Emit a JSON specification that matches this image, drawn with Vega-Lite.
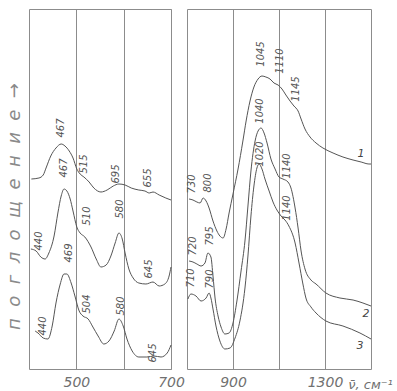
{
  "$schema": "https://vega.github.io/schema/vega-lite/v6.json",
  "background": "white",
  "padding": {"left": 4, "top": 8, "right": 0, "bottom": 0},
  "config": {
    "view": {"stroke": "#8c8c8c", "strokeWidth": 1},
    "concat": {"spacing": 0},
    "font": "DejaVu Sans"
  },
  "datasets": {
    "curves": [
      {"panel":"L","curve":1,"wn":405,"a":190},{"panel":"L","curve":1,"wn":421,"a":191},{"panel":"L","curve":1,"wn":430,"a":194},{"panel":"L","curve":1,"wn":436,"a":201},{"panel":"L","curve":1,"wn":446,"a":213},{"panel":"L","curve":1,"wn":457,"a":221},{"panel":"L","curve":1,"wn":468,"a":225},{"panel":"L","curve":1,"wn":476,"a":223},{"panel":"L","curve":1,"wn":485,"a":218},{"panel":"L","curve":1,"wn":493,"a":211},{"panel":"L","curve":1,"wn":501,"a":200},{"panel":"L","curve":1,"wn":508,"a":195},{"panel":"L","curve":1,"wn":516,"a":192},{"panel":"L","curve":1,"wn":527,"a":187},{"panel":"L","curve":1,"wn":537,"a":181},{"panel":"L","curve":1,"wn":552,"a":177},{"panel":"L","curve":1,"wn":565,"a":179},{"panel":"L","curve":1,"wn":578,"a":183},{"panel":"L","curve":1,"wn":590,"a":185},{"panel":"L","curve":1,"wn":603,"a":184},{"panel":"L","curve":1,"wn":616,"a":181},{"panel":"L","curve":1,"wn":632,"a":179},{"panel":"L","curve":1,"wn":645,"a":178},{"panel":"L","curve":1,"wn":654,"a":176},{"panel":"L","curve":1,"wn":662,"a":177},{"panel":"L","curve":1,"wn":675,"a":174},{"panel":"L","curve":1,"wn":689,"a":171},{"panel":"L","curve":1,"wn":700,"a":169},
      {"panel":"L","curve":2,"wn":404,"a":120},{"panel":"L","curve":2,"wn":415,"a":118},{"panel":"L","curve":2,"wn":425,"a":112},{"panel":"L","curve":2,"wn":434,"a":110},{"panel":"L","curve":2,"wn":442,"a":116},{"panel":"L","curve":2,"wn":453,"a":133},{"panel":"L","curve":2,"wn":461,"a":156},{"panel":"L","curve":2,"wn":468,"a":173},{"panel":"L","curve":2,"wn":474,"a":180},{"panel":"L","curve":2,"wn":480,"a":178},{"panel":"L","curve":2,"wn":487,"a":170},{"panel":"L","curve":2,"wn":493,"a":158},{"panel":"L","curve":2,"wn":501,"a":142},{"panel":"L","curve":2,"wn":508,"a":136},{"panel":"L","curve":2,"wn":518,"a":132},{"panel":"L","curve":2,"wn":531,"a":122},{"panel":"L","curve":2,"wn":542,"a":110},{"panel":"L","curve":2,"wn":552,"a":102},{"panel":"L","curve":2,"wn":563,"a":104},{"panel":"L","curve":2,"wn":573,"a":113},{"panel":"L","curve":2,"wn":582,"a":126},{"panel":"L","curve":2,"wn":590,"a":136},{"panel":"L","curve":2,"wn":597,"a":130},{"panel":"L","curve":2,"wn":603,"a":116},{"panel":"L","curve":2,"wn":611,"a":100},{"panel":"L","curve":2,"wn":620,"a":91},{"panel":"L","curve":2,"wn":632,"a":86},{"panel":"L","curve":2,"wn":647,"a":85},{"panel":"L","curve":2,"wn":662,"a":87},{"panel":"L","curve":2,"wn":675,"a":83},{"panel":"L","curve":2,"wn":687,"a":85},{"panel":"L","curve":2,"wn":696,"a":93},{"panel":"L","curve":2,"wn":700,"a":102},
      {"panel":"L","curve":3,"wn":413,"a":38},{"panel":"L","curve":3,"wn":419,"a":36},{"panel":"L","curve":3,"wn":430,"a":31},{"panel":"L","curve":3,"wn":440,"a":30},{"panel":"L","curve":3,"wn":449,"a":43},{"panel":"L","curve":3,"wn":457,"a":66},{"panel":"L","curve":3,"wn":466,"a":85},{"panel":"L","curve":3,"wn":474,"a":95},{"panel":"L","curve":3,"wn":480,"a":95},{"panel":"L","curve":3,"wn":489,"a":86},{"panel":"L","curve":3,"wn":497,"a":73},{"panel":"L","curve":3,"wn":506,"a":58},{"panel":"L","curve":3,"wn":514,"a":53},{"panel":"L","curve":3,"wn":525,"a":50},{"panel":"L","curve":3,"wn":535,"a":42},{"panel":"L","curve":3,"wn":546,"a":33},{"panel":"L","curve":3,"wn":558,"a":25},{"panel":"L","curve":3,"wn":569,"a":28},{"panel":"L","curve":3,"wn":580,"a":38},{"panel":"L","curve":3,"wn":590,"a":50},{"panel":"L","curve":3,"wn":599,"a":43},{"panel":"L","curve":3,"wn":607,"a":30},{"panel":"L","curve":3,"wn":618,"a":18},{"panel":"L","curve":3,"wn":632,"a":12},{"panel":"L","curve":3,"wn":649,"a":12},{"panel":"L","curve":3,"wn":664,"a":13},{"panel":"L","curve":3,"wn":679,"a":12},{"panel":"L","curve":3,"wn":692,"a":16},{"panel":"L","curve":3,"wn":700,"a":24},
      {"panel":"R","curve":1,"wn":709,"a":170},{"panel":"R","curve":1,"wn":726,"a":169},{"panel":"R","curve":1,"wn":743,"a":167},{"panel":"R","curve":1,"wn":757,"a":166},{"panel":"R","curve":1,"wn":770,"a":171},{"panel":"R","curve":1,"wn":783,"a":168},{"panel":"R","curve":1,"wn":796,"a":161},{"panel":"R","curve":1,"wn":813,"a":148},{"panel":"R","curve":1,"wn":830,"a":138},{"panel":"R","curve":1,"wn":843,"a":133},{"panel":"R","curve":1,"wn":857,"a":131},{"panel":"R","curve":1,"wn":870,"a":140},{"panel":"R","curve":1,"wn":883,"a":156},{"panel":"R","curve":1,"wn":900,"a":175},{"panel":"R","curve":1,"wn":922,"a":200},{"panel":"R","curve":1,"wn":943,"a":228},{"panel":"R","curve":1,"wn":957,"a":248},{"panel":"R","curve":1,"wn":974,"a":268},{"panel":"R","curve":1,"wn":991,"a":282},{"panel":"R","curve":1,"wn":1009,"a":290},{"panel":"R","curve":1,"wn":1026,"a":293},{"panel":"R","curve":1,"wn":1043,"a":292},{"panel":"R","curve":1,"wn":1061,"a":290},{"panel":"R","curve":1,"wn":1078,"a":286},{"panel":"R","curve":1,"wn":1096,"a":284},{"panel":"R","curve":1,"wn":1113,"a":280},{"panel":"R","curve":1,"wn":1130,"a":274},{"panel":"R","curve":1,"wn":1148,"a":268},{"panel":"R","curve":1,"wn":1165,"a":263},{"panel":"R","curve":1,"wn":1183,"a":258},{"panel":"R","curve":1,"wn":1196,"a":250},{"panel":"R","curve":1,"wn":1213,"a":240},{"panel":"R","curve":1,"wn":1235,"a":232},{"panel":"R","curve":1,"wn":1261,"a":226},{"panel":"R","curve":1,"wn":1291,"a":221},{"panel":"R","curve":1,"wn":1335,"a":216},{"panel":"R","curve":1,"wn":1378,"a":212},{"panel":"R","curve":1,"wn":1422,"a":209},{"panel":"R","curve":1,"wn":1457,"a":207},{"panel":"R","curve":1,"wn":1491,"a":205},{"panel":"R","curve":1,"wn":1500,"a":205},
      {"panel":"R","curve":2,"wn":709,"a":108},{"panel":"R","curve":2,"wn":726,"a":107},{"panel":"R","curve":2,"wn":743,"a":105},{"panel":"R","curve":2,"wn":761,"a":103},{"panel":"R","curve":2,"wn":778,"a":106},{"panel":"R","curve":2,"wn":791,"a":116},{"panel":"R","curve":2,"wn":804,"a":112},{"panel":"R","curve":2,"wn":813,"a":93},{"panel":"R","curve":2,"wn":822,"a":71},{"panel":"R","curve":2,"wn":835,"a":53},{"panel":"R","curve":2,"wn":848,"a":42},{"panel":"R","curve":2,"wn":865,"a":35},{"panel":"R","curve":2,"wn":883,"a":36},{"panel":"R","curve":2,"wn":900,"a":46},{"panel":"R","curve":2,"wn":917,"a":68},{"panel":"R","curve":2,"wn":935,"a":98},{"panel":"R","curve":2,"wn":952,"a":128},{"panel":"R","curve":2,"wn":965,"a":163},{"panel":"R","curve":2,"wn":978,"a":198},{"panel":"R","curve":2,"wn":996,"a":228},{"panel":"R","curve":2,"wn":1009,"a":238},{"panel":"R","curve":2,"wn":1022,"a":241},{"panel":"R","curve":2,"wn":1035,"a":236},{"panel":"R","curve":2,"wn":1048,"a":226},{"panel":"R","curve":2,"wn":1065,"a":210},{"panel":"R","curve":2,"wn":1083,"a":200},{"panel":"R","curve":2,"wn":1100,"a":192},{"panel":"R","curve":2,"wn":1117,"a":190},{"panel":"R","curve":2,"wn":1139,"a":187},{"panel":"R","curve":2,"wn":1152,"a":181},{"panel":"R","curve":2,"wn":1170,"a":161},{"panel":"R","curve":2,"wn":1183,"a":141},{"panel":"R","curve":2,"wn":1196,"a":118},{"panel":"R","curve":2,"wn":1213,"a":100},{"panel":"R","curve":2,"wn":1239,"a":89},{"panel":"R","curve":2,"wn":1261,"a":85},{"panel":"R","curve":2,"wn":1304,"a":76},{"panel":"R","curve":2,"wn":1365,"a":71},{"panel":"R","curve":2,"wn":1422,"a":69},{"panel":"R","curve":2,"wn":1465,"a":66},{"panel":"R","curve":2,"wn":1500,"a":63},
      {"panel":"R","curve":3,"wn":704,"a":70},{"panel":"R","curve":3,"wn":717,"a":75},{"panel":"R","curve":3,"wn":739,"a":73},{"panel":"R","curve":3,"wn":761,"a":68},{"panel":"R","curve":3,"wn":783,"a":71},{"panel":"R","curve":3,"wn":796,"a":76},{"panel":"R","curve":3,"wn":804,"a":71},{"panel":"R","curve":3,"wn":813,"a":60},{"panel":"R","curve":3,"wn":826,"a":43},{"panel":"R","curve":3,"wn":843,"a":28},{"panel":"R","curve":3,"wn":865,"a":20},{"panel":"R","curve":3,"wn":887,"a":21},{"panel":"R","curve":3,"wn":909,"a":31},{"panel":"R","curve":3,"wn":930,"a":48},{"panel":"R","curve":3,"wn":952,"a":81},{"panel":"R","curve":3,"wn":965,"a":113},{"panel":"R","curve":3,"wn":978,"a":153},{"panel":"R","curve":3,"wn":991,"a":183},{"panel":"R","curve":3,"wn":1004,"a":201},{"panel":"R","curve":3,"wn":1013,"a":205},{"panel":"R","curve":3,"wn":1026,"a":200},{"panel":"R","curve":3,"wn":1039,"a":190},{"panel":"R","curve":3,"wn":1057,"a":178},{"panel":"R","curve":3,"wn":1074,"a":167},{"panel":"R","curve":3,"wn":1091,"a":159},{"panel":"R","curve":3,"wn":1109,"a":153},{"panel":"R","curve":3,"wn":1126,"a":149},{"panel":"R","curve":3,"wn":1143,"a":143},{"panel":"R","curve":3,"wn":1170,"a":126},{"panel":"R","curve":3,"wn":1187,"a":106},{"panel":"R","curve":3,"wn":1204,"a":85},{"panel":"R","curve":3,"wn":1217,"a":71},{"panel":"R","curve":3,"wn":1239,"a":62},{"panel":"R","curve":3,"wn":1261,"a":56},{"panel":"R","curve":3,"wn":1304,"a":48},{"panel":"R","curve":3,"wn":1378,"a":43},{"panel":"R","curve":3,"wn":1452,"a":36},{"panel":"R","curve":3,"wn":1500,"a":30}
    ],
    "peaks": [
      {"panel":"L","label":"467","wn":468,"a":241},
      {"panel":"L","label":"515","wn":516,"a":205},
      {"panel":"L","label":"695","wn":584,"a":195},
      {"panel":"L","label":"655","wn":651,"a":191},
      {"panel":"L","label":"467","wn":474,"a":201},
      {"panel":"L","label":"440","wn":421,"a":128},
      {"panel":"L","label":"510","wn":523,"a":153},
      {"panel":"L","label":"580","wn":592,"a":160},
      {"panel":"L","label":"645","wn":654,"a":100},
      {"panel":"L","label":"469","wn":485,"a":116},
      {"panel":"L","label":"440","wn":430,"a":43},
      {"panel":"L","label":"504","wn":523,"a":65},
      {"panel":"L","label":"580","wn":594,"a":63},
      {"panel":"L","label":"645","wn":662,"a":16},
      {"panel":"R","label":"1045","wn":1022,"a":315},
      {"panel":"R","label":"1110","wn":1104,"a":308},
      {"panel":"R","label":"1145","wn":1174,"a":280},
      {"panel":"R","label":"1040","wn":1017,"a":258},
      {"panel":"R","label":"1020","wn":1017,"a":215},
      {"panel":"R","label":"1140","wn":1135,"a":203},
      {"panel":"R","label":"1140","wn":1135,"a":161},
      {"panel":"R","label":"730","wn":722,"a":185},
      {"panel":"R","label":"800","wn":791,"a":186},
      {"panel":"R","label":"720","wn":726,"a":123},
      {"panel":"R","label":"795","wn":800,"a":133},
      {"panel":"R","label":"710","wn":717,"a":91},
      {"panel":"R","label":"790","wn":800,"a":90}
    ],
    "ids": [
      {"label":"1","wn":1457,"a":215},
      {"label":"2","wn":1478,"a":55},
      {"label":"3","wn":1452,"a":23}
    ]
  },
  "hconcat": [
    {
      "width": 142,
      "height": 360,
      "layer": [
        {
          "data": {"name": "curves"},
          "transform": [{"filter": "datum.panel == 'L'"}],
          "mark": {"type": "line", "color": "#555555", "strokeWidth": 1, "interpolate": "monotone"},
          "encoding": {
            "x": {"field": "wn", "type": "quantitative",
              "scale": {"domain": [400, 700], "nice": false, "zero": false},
              "axis": {"values": [500, 600, 700], "format": "d", "grid": true, "gridColor": "#8c8c8c", "gridWidth": 1, "ticks": false, "domain": false, "labelFlush": false, "labelOverlap": false,
                "labelExpr": "datum.value == 600 ? '' : datum.label", "labelFontStyle": "italic", "labelFontSize": 14, "labelColor": "#707070", "labelPadding": 6, "title": null}},
            "y": {"field": "a", "type": "quantitative",
              "scale": {"domain": [0, 360], "nice": false, "zero": false},
              "axis": {"labels": false, "ticks": false, "domain": false, "grid": false,
                "title": "п\u00a0\u00a0о\u00a0\u00a0г\u00a0\u00a0л\u00a0\u00a0о\u00a0\u00a0щ\u00a0\u00a0е\u00a0\u00a0н\u00a0\u00a0и\u00a0\u00a0е\u00a0\u00a0→", "titleFontSize": 18, "titleFontStyle": "italic", "titleFontWeight": "normal", "titleColor": "#8a8a8a",
                "titleAngle": 270, "titleX": -15, "titleY": 197, "titleAlign": "center", "titleBaseline": "middle"}},
            "detail": {"field": "curve"}
          }
        },
        {
          "data": {"name": "peaks"},
          "transform": [{"filter": "datum.panel == 'L'"}],
          "mark": {"type": "text", "angle": 270, "fontSize": 10, "fontStyle": "italic", "color": "#555555"},
          "encoding": {
            "x": {"field": "wn", "type": "quantitative"},
            "y": {"field": "a", "type": "quantitative"},
            "text": {"field": "label"}
          }
        }
      ]
    },
    {
      "width": 184,
      "height": 360,
      "layer": [
        {
          "data": {"name": "curves"},
          "transform": [{"filter": "datum.panel == 'R'"}],
          "mark": {"type": "line", "color": "#555555", "strokeWidth": 1, "interpolate": "monotone"},
          "encoding": {
            "x": {"field": "wn", "type": "quantitative",
              "scale": {"domain": [700, 1500], "nice": false, "zero": false},
              "axis": {"values": [900, 1100, 1300], "format": "d", "grid": true, "gridColor": "#8c8c8c", "gridWidth": 1, "ticks": false, "domain": false, "labelFlush": false, "labelOverlap": false,
                "labelExpr": "datum.value == 1100 ? '' : datum.label", "labelFontStyle": "italic", "labelFontSize": 14, "labelColor": "#707070", "labelPadding": 6,
                "title": "ν̄, см⁻¹", "titleFontSize": 13, "titleFontStyle": "italic", "titleFontWeight": "normal", "titleColor": "#707070",
                "titleAngle": 0, "titleX": 183, "titleY": 15, "titleAlign": "center", "titleBaseline": "middle"}},
            "y": {"field": "a", "type": "quantitative",
              "scale": {"domain": [0, 360], "nice": false, "zero": false},
              "axis": null},
            "detail": {"field": "curve"}
          }
        },
        {
          "data": {"name": "peaks"},
          "transform": [{"filter": "datum.panel == 'R'"}],
          "mark": {"type": "text", "angle": 270, "fontSize": 10, "fontStyle": "italic", "color": "#555555"},
          "encoding": {
            "x": {"field": "wn", "type": "quantitative"},
            "y": {"field": "a", "type": "quantitative"},
            "text": {"field": "label"}
          }
        },
        {
          "data": {"name": "ids"},
          "mark": {"type": "text", "fontSize": 11, "fontStyle": "italic", "color": "#444444"},
          "encoding": {
            "x": {"field": "wn", "type": "quantitative"},
            "y": {"field": "a", "type": "quantitative"},
            "text": {"field": "label"}
          }
        }
      ]
    }
  ]
}
